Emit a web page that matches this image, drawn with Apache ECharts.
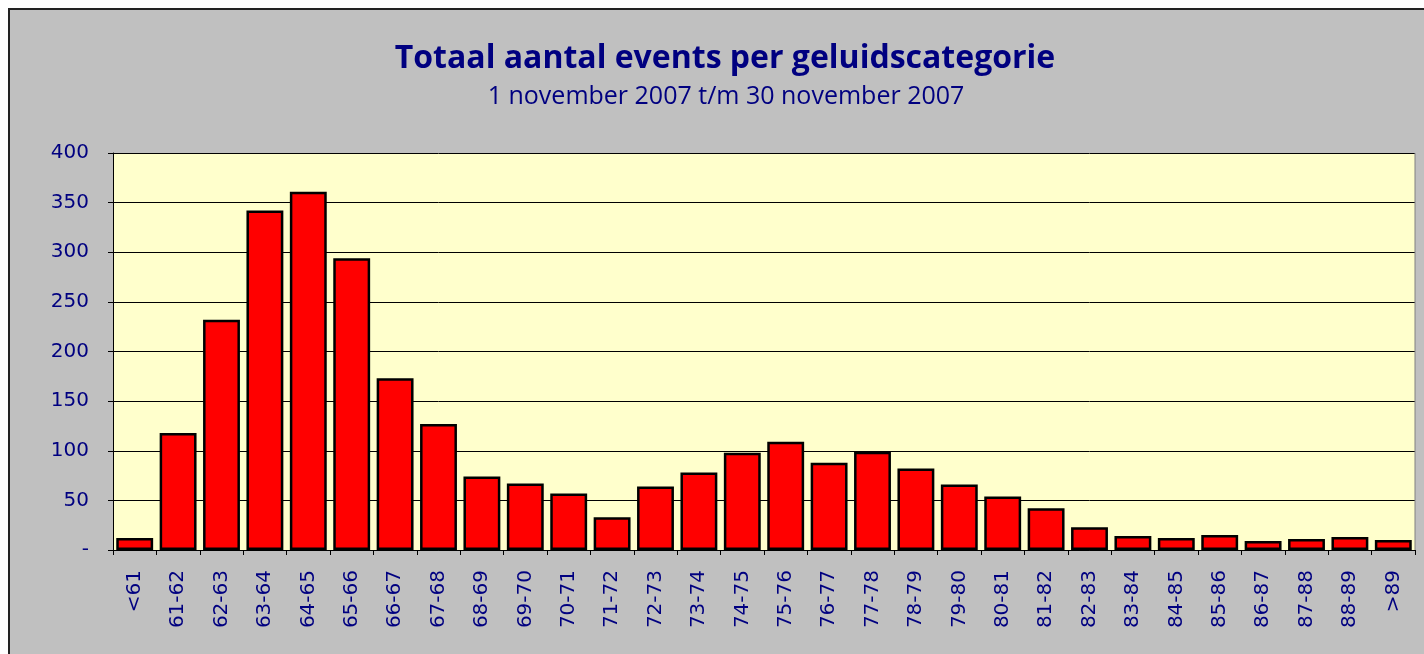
<!DOCTYPE html>
<html>
<head>
<meta charset="utf-8">
<script src="https://cdn.jsdelivr.net/npm/echarts@6/dist/echarts.min.js"></script>
<style>
html,body{margin:0;padding:0;background:#fff;}
#c{width:1424px;height:654px;}
</style>
</head>
<body>
<div id="c"></div>
<script>
const categories = ['<61','61-62','62-63','63-64','64-65','65-66','66-67','67-68','68-69','69-70','70-71','71-72','72-73','73-74','74-75','75-76','76-77','77-78','78-79','79-80','80-81','81-82','82-83','83-84','84-85','85-86','86-87','87-88','88-89','>89'];
const events = [12,118,232,342,361,294,173,127,74,67,57,33,64,78,98,109,88,99,82,66,54,42,23,14,12,15,9,11,13,10];
const titleText = 'Totaal aantal events per geluidscategorie';
const subtitleText = '1 november 2007 t/m 30 november 2007';
const navy = '#000080';
const font = '"DejaVu Sans", "Open Sans", sans-serif';

const chart = echarts.init(document.getElementById('c'));
chart.setOption({
  backgroundColor: '#ffffff',
  animation: false,
  graphic: [
    {type:'rect', z:-10, shape:{x:9,y:9,width:1420,height:650}, style:{fill:'#c0c0c0', stroke:'#222', lineWidth:2}},
    {type:'text', x:725, y:59, style:{text:titleText, textAlign:'center', textVerticalAlign:'middle', fill:navy, font:'bold 32px "Open Sans", sans-serif'}},
    {type:'text', x:726, y:97, style:{text:subtitleText, textAlign:'center', textVerticalAlign:'middle', fill:navy, font:'25px "Open Sans", sans-serif'}},
    {type:'line', z:5, shape:{x1:1415, y1:153, x2:1415, y2:550}, style:{stroke:'#808080', lineWidth:1}}
  ],
  grid: {left:113, right:9, top:153, bottom:104, show:true, backgroundColor:'#ffffcc', borderWidth:0},
  xAxis: {
    type:'category', data:categories, boundaryGap:true,
    axisLine:{show:true, lineStyle:{color:'#000', width:1}},
    axisTick:{show:true, length:5, lineStyle:{color:'#000'}},
    axisLabel:{rotate:90, margin:20, color:navy, fontSize:20, fontFamily:font, interval:0}
  },
  yAxis: {
    type:'value', min:0, max:400, interval:50,
    axisLine:{show:true, lineStyle:{color:'#000', width:1}},
    axisTick:{show:true, length:5, lineStyle:{color:'#000'}},
    axisLabel:{color:navy, fontSize:20, fontFamily:font, margin:24, formatter: v => v === 0 ? '-' : String(v)},
    splitLine:{show:true, lineStyle:{color:'#000', width:1}}
  },
  series: [{
    type:'bar', data:events, barCategoryGap:'15%',
    itemStyle:{color:'#ff0000', borderColor:'#000', borderWidth:2.5}
  }]
});
</script>
</body>
</html>
